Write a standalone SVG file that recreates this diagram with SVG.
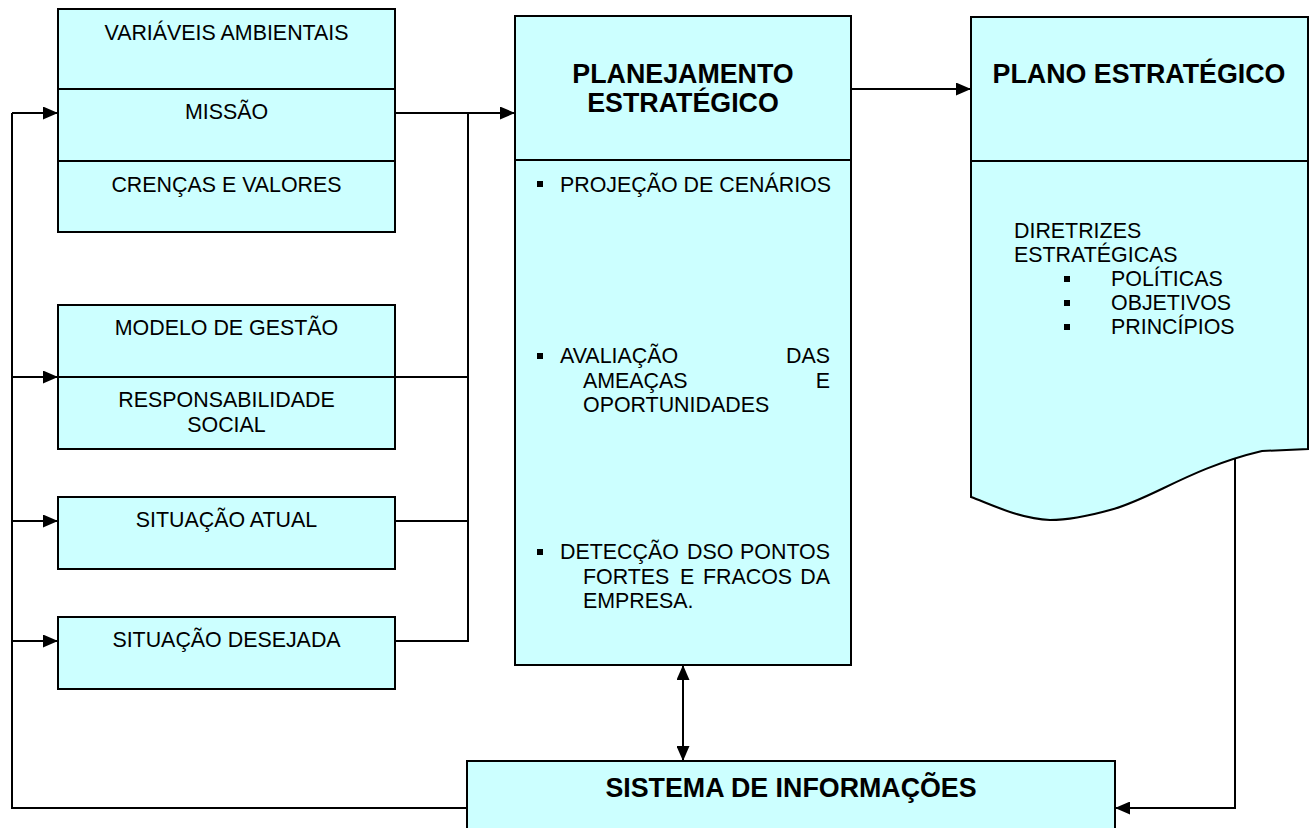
<svg xmlns="http://www.w3.org/2000/svg" width="1312" height="828" viewBox="0 0 1312 828">
<style>
.box{fill:#CCFFFF;stroke:#000;stroke-width:2}
.div{stroke:#000;stroke-width:2;fill:none}
.t{font-family:"Liberation Sans",Arial,sans-serif;font-size:21.4px;fill:#000}
.c{text-anchor:middle}
.e{text-anchor:end}
.b{font-weight:bold;font-size:26.8px}
.ln{stroke:#000;stroke-width:2;fill:none}
.bul{fill:#000}
</style>
<defs>
<marker id="ah" viewBox="0 0 15 13" refX="15" refY="6.5" markerWidth="15" markerHeight="13" markerUnits="userSpaceOnUse" orient="auto-start-reverse">
<path d="M0,0 L15,6.5 L0,13 z" fill="#000"/>
</marker>
</defs>
<rect width="1312" height="828" fill="#fff"/>

<g id="connectors">
<polyline class="ln" points="467,808 12,808 12,113"/>
<line class="ln" x1="12" y1="113" x2="58" y2="113" marker-end="url(#ah)"/>
<line class="ln" x1="12" y1="377" x2="58" y2="377" marker-end="url(#ah)"/>
<line class="ln" x1="12" y1="521" x2="58" y2="521" marker-end="url(#ah)"/>
<line class="ln" x1="12" y1="641" x2="58" y2="641" marker-end="url(#ah)"/>
<line class="ln" x1="395" y1="113" x2="515" y2="113" marker-end="url(#ah)"/>
<polyline class="ln" points="395,377 468,377"/>
<polyline class="ln" points="395,521 468,521"/>
<polyline class="ln" points="395,641 468,641 468,113"/>
<line class="ln" x1="851" y1="89" x2="971" y2="89" marker-end="url(#ah)"/>
<line class="ln" x1="683" y1="665" x2="683" y2="761" marker-start="url(#ah)" marker-end="url(#ah)"/>
<polyline class="ln" points="1235,448 1235,808 1115,808" marker-end="url(#ah)"/>
</g>

<g id="node-valores">
<rect class="box" x="58" y="9" width="337" height="223"/>
<line class="div" x1="58" y1="89" x2="395" y2="89"/>
<line class="div" x1="58" y1="161" x2="395" y2="161"/>
<text class="t c" x="226.5" y="40">VARIÁVEIS AMBIENTAIS</text>
<text class="t c" x="226.5" y="119">MISSÃO</text>
<text class="t c" x="226.5" y="192">CRENÇAS E VALORES</text>
</g>

<g id="node-gestao">
<rect class="box" x="58" y="305" width="337" height="144"/>
<line class="div" x1="58" y1="377" x2="395" y2="377"/>
<text class="t c" x="226.5" y="335">MODELO DE GESTÃO</text>
<text class="t c" x="226.5" y="407">RESPONSABILIDADE</text>
<text class="t c" x="226.5" y="432">SOCIAL</text>
</g>

<g id="node-atual">
<rect class="box" x="58" y="497" width="337" height="72"/>
<text class="t c" x="226.5" y="527">SITUAÇÃO ATUAL</text>
</g>

<g id="node-desejada">
<rect class="box" x="58" y="617" width="337" height="72"/>
<text class="t c" x="226.5" y="647">SITUAÇÃO DESEJADA</text>
</g>

<g id="node-planejamento">
<rect class="box" x="515" y="16" width="336" height="649"/>
<line class="div" x1="515" y1="160" x2="851" y2="160"/>
<text class="t b c" x="683" y="83">PLANEJAMENTO</text>
<text class="t b c" x="683" y="112">ESTRATÉGICO</text>
<rect class="bul" x="537" y="181" width="6" height="6"/>
<text class="t" x="560" y="192">PROJEÇÃO DE CENÁRIOS</text>
<rect class="bul" x="537" y="353" width="6" height="6"/>
<text class="t" x="560" y="363">AVALIAÇÃO</text>
<text class="t e" x="830" y="363">DAS</text>
<text class="t" x="583" y="388">AMEAÇAS</text>
<text class="t e" x="830" y="388">E</text>
<text class="t" x="583" y="412">OPORTUNIDADES</text>
<rect class="bul" x="537" y="549" width="6" height="6"/>
<text class="t" x="560" y="559">DETECÇÃO</text>
<text class="t" x="687" y="559">DSO</text>
<text class="t e" x="830" y="559">PONTOS</text>
<text class="t" x="583" y="584">FORTES</text>
<text class="t" x="680" y="584">E</text>
<text class="t" x="703" y="584">FRACOS</text>
<text class="t e" x="830" y="584">DA</text>
<text class="t" x="583" y="608">EMPRESA.</text>
</g>

<g id="node-plano">
<path class="box" d="M971,17 H1308 V449 L1262,451 C1190,468 1150,500 1110,510 C1085,517 1065,520 1050,520 C1020,519 990,504 971,497 Z"/>
<line class="div" x1="971" y1="161" x2="1308" y2="161"/>
<text class="t b c" x="1139" y="83">PLANO ESTRATÉGICO</text>
<text class="t" x="1014" y="238">DIRETRIZES</text>
<text class="t" x="1014" y="262">ESTRATÉGICAS</text>
<rect class="bul" x="1064" y="276" width="6" height="6"/>
<text class="t" x="1111" y="286">POLÍTICAS</text>
<rect class="bul" x="1064" y="300" width="6" height="6"/>
<text class="t" x="1111" y="310">OBJETIVOS</text>
<rect class="bul" x="1064" y="324" width="6" height="6"/>
<text class="t" x="1111" y="334">PRINCÍPIOS</text>
</g>

<g id="node-sistema">
<rect class="box" x="467" y="761" width="648" height="90"/>
<text class="t b c" x="791" y="797">SISTEMA DE INFORMAÇÕES</text>
</g>
</svg>
